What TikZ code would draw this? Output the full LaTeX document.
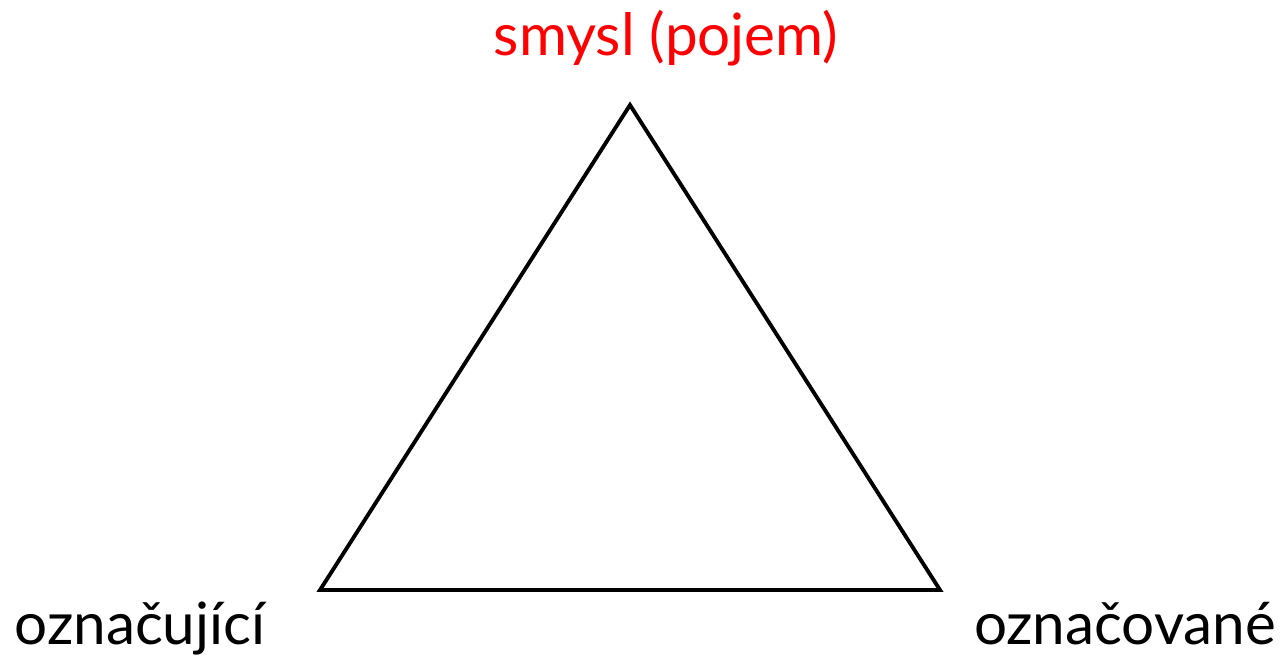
\documentclass[tikz,border=0pt]{standalone}
\usepackage{fontspec}
\setmainfont{Lato}
\usetikzlibrary{positioning}
\definecolor{pojemred}{RGB}{255,0,0}
\tikzset{
  label text/.style={font=\fontsize{16.6}{18}\selectfont, anchor=base, inner sep=0pt},
  edge line/.style={line width=1.1pt, line join=miter}
}
\begin{document}
\begin{tikzpicture}[x=0.01cm, y=-0.01cm]
\useasboundingbox (0,0) rectangle (1283,663);

% Vertices of the triangle
\coordinate (smysl) at (630,105);
\coordinate (znak) at (320,590);
\coordinate (vec) at (940,590);

% Triangle
\draw[edge line] (smysl) -- (znak) -- (vec) -- cycle;

% Labels
\node[label text, text=pojemred] (pojem) at (666,55) {smysl (pojem)};
\node[label text] (oznacujici) at (140,644) {označující};
\node[label text] (oznacovane) at (1125,644) {označované};
\end{tikzpicture}
\end{document}
